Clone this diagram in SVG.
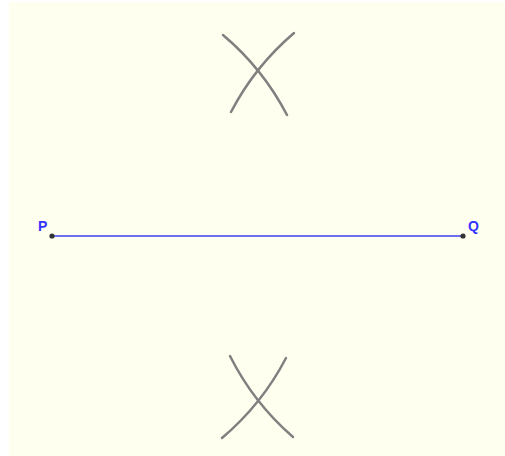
<svg xmlns="http://www.w3.org/2000/svg" width="505" height="456" viewBox="0 0 505 456">
<style>
.arc{fill:none;stroke:#808080;stroke-width:2.5;stroke-linecap:round}
.seg{stroke:#6E6EF0;stroke-width:2}
.pt{fill:#333333}
.lbl{font-family:"Liberation Sans",Arial,sans-serif;font-weight:bold;font-size:14px;fill:#3333FF}
</style>
<rect x="9" y="2" width="496" height="454" fill="#FEFFEF"/>
<g id="arcs">
<path class="arc" d="M223,35 A264,264 0 0 1 287,115"/>
<path class="arc" d="M294,33 A264,264 0 0 0 231,112"/>
<path class="arc" d="M230,356 A264,264 0 0 0 293,437"/>
<path class="arc" d="M286,358 A264,264 0 0 1 222,438"/>
</g>
<g id="connectors">
<line class="seg" x1="52" y1="236" x2="463" y2="236"/>
</g>
<g id="P">
<circle class="pt" cx="52" cy="236" r="2.6"/>
<text class="lbl" x="38" y="231">P</text>
</g>
<g id="Q">
<circle class="pt" cx="463" cy="236" r="2.6"/>
<text class="lbl" x="468" y="231">Q</text>
</g>
</svg>
